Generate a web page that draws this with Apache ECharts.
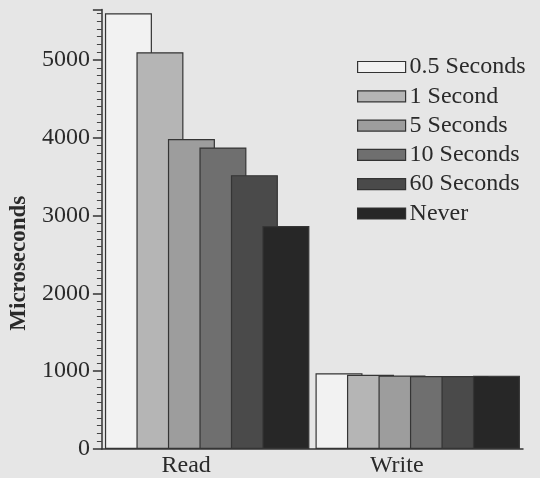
<!DOCTYPE html>
<html>
<head>
<meta charset="utf-8">
<script src="https://cdn.jsdelivr.net/npm/echarts@6/dist/echarts.min.js"></script>
<style>
  html, body { margin: 0; padding: 0; background: #e6e6e6; }
  #chart { width: 540px; height: 478px; }
</style>
</head>
<body>
<div id="chart"></div>
<script>
// Access latency by sync interval
const categories = ['Read', 'Write'];
const seriesNames = ['0.5 Seconds', '1 Second', '5 Seconds', '10 Seconds', '60 Seconds', 'Never'];
const halfSecond = [5600, 973];
const oneSecond = [5100, 955];
const fiveSeconds = [3985, 945];
const tenSeconds = [3875, 937];
const sixtySeconds = [3520, 937];
const never = [2865, 943];
const yTicks = [0, 1000, 2000, 3000, 4000, 5000];

const seriesValues = [halfSecond, oneSecond, fiveSeconds, tenSeconds, sixtySeconds, never];
const fills = ['#f2f2f2', '#b5b5b5', '#9d9d9d', '#6f6f6f', '#4a4a4a', '#272727'];
const font = '"Liberation Serif", "Times New Roman", serif';
const ink = '#2a2a2a';

const chart = echarts.init(document.getElementById('chart'), null, { renderer: 'canvas' });

chart.setOption({
  backgroundColor: '#e6e6e6',
  animation: false,
  textStyle: { fontFamily: font, color: ink },
  grid: { left: 97, right: 17, top: 9.4, bottom: 29, containLabel: false },
  legend: {
    orient: 'vertical',
    left: 357,
    top: 55,
    padding: 0,
    icon: 'rect',
    itemWidth: 48,
    itemHeight: 11,
    itemGap: 5.3,
    data: seriesNames,
    textStyle: { fontFamily: font, fontSize: 24, color: ink, lineHeight: 24, padding: [0, 0, 0, -1] },
    itemStyle: { borderColor: '#333', borderWidth: 1.2 }
  },
  xAxis: {
    type: 'category',
    data: categories,
    axisLine: { lineStyle: { color: '#333', width: 1.5 } },
    axisTick: { show: false },
    axisLabel: {
      fontFamily: font,
      fontSize: 24,
      color: ink,
      margin: 5,
      padding: [0, 42, 0, 0]
    },
    splitLine: { show: false }
  },
  yAxis: {
    type: 'value',
    min: 0,
    max: 5650,
    interval: 1000,
    name: 'Microseconds',
    nameLocation: 'middle',
    nameGap: 59,
    nameTextStyle: {
      fontFamily: font,
      fontSize: 23,
      fontWeight: 'bold',
      color: ink,
      padding: [0, 68, 0, 0]
    },
    axisLine: { show: true, lineStyle: { color: '#333', width: 1.5 } },
    axisTick: { show: true, length: 9, lineStyle: { color: '#333', width: 1.5 } },
    minorTick: { show: true, splitNumber: 10, length: 5, lineStyle: { color: '#444', width: 1 } },
    splitLine: { show: false },
    minorSplitLine: { show: false },
    axisLabel: {
      fontFamily: font,
      fontSize: 24,
      color: ink,
      margin: 12,
      formatter: function (v) { return yTicks.indexOf(v) >= 0 ? String(v) : ''; }
    }
  },
  series: seriesNames.map(function (name, i) {
    return {
      name: name,
      type: 'bar',
      data: seriesValues[i],
      barWidth: 47,
      barGap: '-33%',
      itemStyle: { color: fills[i], borderColor: '#353535', borderWidth: 1.2 }
    };
  })
});
</script>
</body>
</html>
